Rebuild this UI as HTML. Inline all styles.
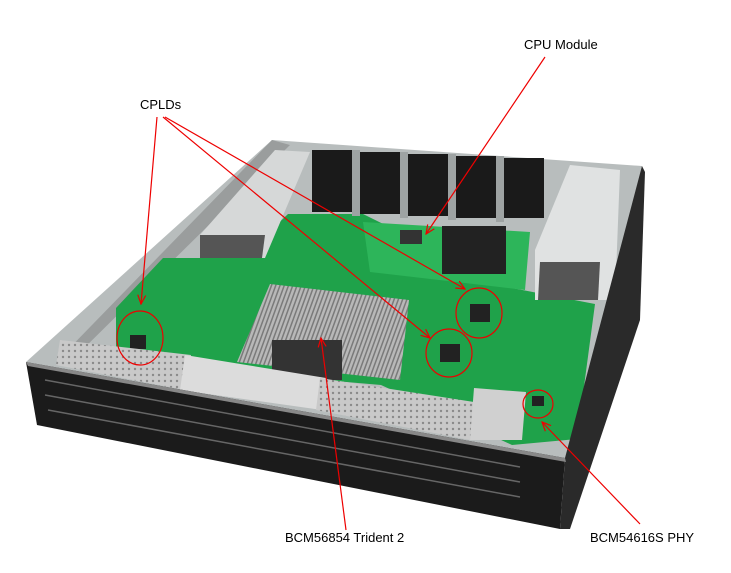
<!DOCTYPE html>
<html><head><style>
html,body{margin:0;padding:0;background:#fff;}
.t{position:absolute;font-family:"Liberation Sans",Arial,sans-serif;font-size:13px;color:#000;white-space:nowrap;}
</style></head><body>
<div style="position:relative;width:731px;height:573px;overflow:hidden;">
<svg width="731" height="573" style="position:absolute;left:0;top:0">
<defs>
<marker id="a" markerWidth="10" markerHeight="10" refX="9" refY="5" orient="auto" markerUnits="userSpaceOnUse"><path d="M0,1 L9,5 L0,9" fill="none" stroke="#e00" stroke-width="1.2"/></marker>
<pattern id="mesh" width="6" height="6" patternUnits="userSpaceOnUse"><rect width="6" height="6" fill="#c9c9c9"/><circle cx="3" cy="3" r="1.2" fill="#8a8a8a"/></pattern>
<pattern id="fins" width="4" height="4" patternUnits="userSpaceOnUse" patternTransform="rotate(20)"><rect width="4" height="4" fill="#b8b8b8"/><rect width="1.5" height="4" fill="#7a7a7a"/></pattern>
</defs>
<!-- chassis floor/back -->
<polygon points="272,140 642,166 632,330 570,460 26,362" fill="#b8bdbd"/>
<!-- left wall -->
<polygon points="272,140 290,145 70,362 56,362" fill="#9a9d9d"/>
<!-- PCB -->
<polygon points="116,308 163,258 242,258 288,214 363,214 512,288 595,304 577,439 512,445 381,385 116,362" fill="#1fa24a"/>
<!-- fans -->
<g fill="#1a1a1a">
<rect x="312" y="150" width="42" height="62"/><rect x="360" y="152" width="42" height="62"/><rect x="408" y="154" width="42" height="62"/><rect x="456" y="156" width="42" height="62"/><rect x="504" y="158" width="40" height="60"/>
</g>
<g fill="#9ea3a3"><rect x="352" y="150" width="8" height="66"/><rect x="400" y="152" width="8" height="66"/><rect x="448" y="154" width="8" height="66"/><rect x="496" y="156" width="8" height="66"/></g>
<!-- PSUs -->
<polygon points="275,150 310,152 265,258 200,258 200,235" fill="#d6d8d8"/>
<polygon points="200,235 265,235 262,258 200,258" fill="#555"/>
<polygon points="570,165 620,170 615,300 535,300 535,250" fill="#e0e2e2"/>
<polygon points="540,262 600,262 598,300 538,300" fill="#555"/>
<!-- CPU module -->
<polygon points="363,222 530,232 525,290 370,272" fill="#2db55a"/>
<rect x="442" y="226" width="64" height="48" fill="#222"/>
<rect x="400" y="230" width="22" height="14" fill="#333"/>
<!-- heatsink -->
<polygon points="270,284 409,300 400,380 237,362" fill="url(#fins)"/>
<rect x="272" y="340" width="70" height="40" fill="#333"/>
<!-- chips -->
<rect x="440" y="344" width="20" height="18" fill="#222"/>
<rect x="470" y="304" width="20" height="18" fill="#222"/>
<rect x="130" y="335" width="16" height="14" fill="#222"/>
<rect x="532" y="396" width="12" height="10" fill="#222"/>
<!-- SFP cages -->
<polygon points="60,340 191,355 185,390 56,365" fill="url(#mesh)"/>
<polygon points="185,355 326,378 322,410 180,390" fill="#dcdcdc"/>
<polygon points="320,378 474,402 470,440 316,410" fill="url(#mesh)"/>
<polygon points="474,388 526,392 522,440 470,440" fill="#d0d0d0"/>
<!-- front panel -->
<polygon points="26,362 565,458 560,529 37,425" fill="#1b1b1b"/>
<polygon points="565,458 642,166 645,172 640,320 570,529 560,529" fill="#2a2a2a"/>
<g stroke="#666" stroke-width="1.5">
<line x1="45" y1="380" x2="520" y2="467"/><line x1="45" y1="395" x2="520" y2="482"/><line x1="48" y1="410" x2="520" y2="497"/>
</g>
<polygon points="26,362 565,458 566,462 28,366" fill="#888"/>
<!-- annotations -->
<g fill="none" stroke="#e00" stroke-width="1.2">
<ellipse cx="140" cy="338" rx="23" ry="27"/>
<ellipse cx="479" cy="313" rx="23" ry="25"/>
<ellipse cx="449" cy="353" rx="23" ry="24"/>
<ellipse cx="538" cy="404" rx="15" ry="14"/>
<line x1="157" y1="117" x2="141" y2="304" marker-end="url(#a)"/>
<line x1="163" y1="117" x2="430" y2="338" marker-end="url(#a)"/>
<line x1="165" y1="117" x2="465" y2="289" marker-end="url(#a)"/>
<line x1="545" y1="57" x2="426" y2="234" marker-end="url(#a)"/>
<line x1="346" y1="530" x2="321" y2="338" marker-end="url(#a)"/>
<line x1="640" y1="524" x2="542" y2="422" marker-end="url(#a)"/>
</g>
</svg>
<div class="t" style="left:524px;top:37px">CPU Module</div>
<div class="t" style="left:140px;top:97px">CPLDs</div>
<div class="t" style="left:285px;top:530px">BCM56854 Trident 2</div>
<div class="t" style="left:590px;top:530px">BCM54616S PHY</div>
</div>
</body></html>
